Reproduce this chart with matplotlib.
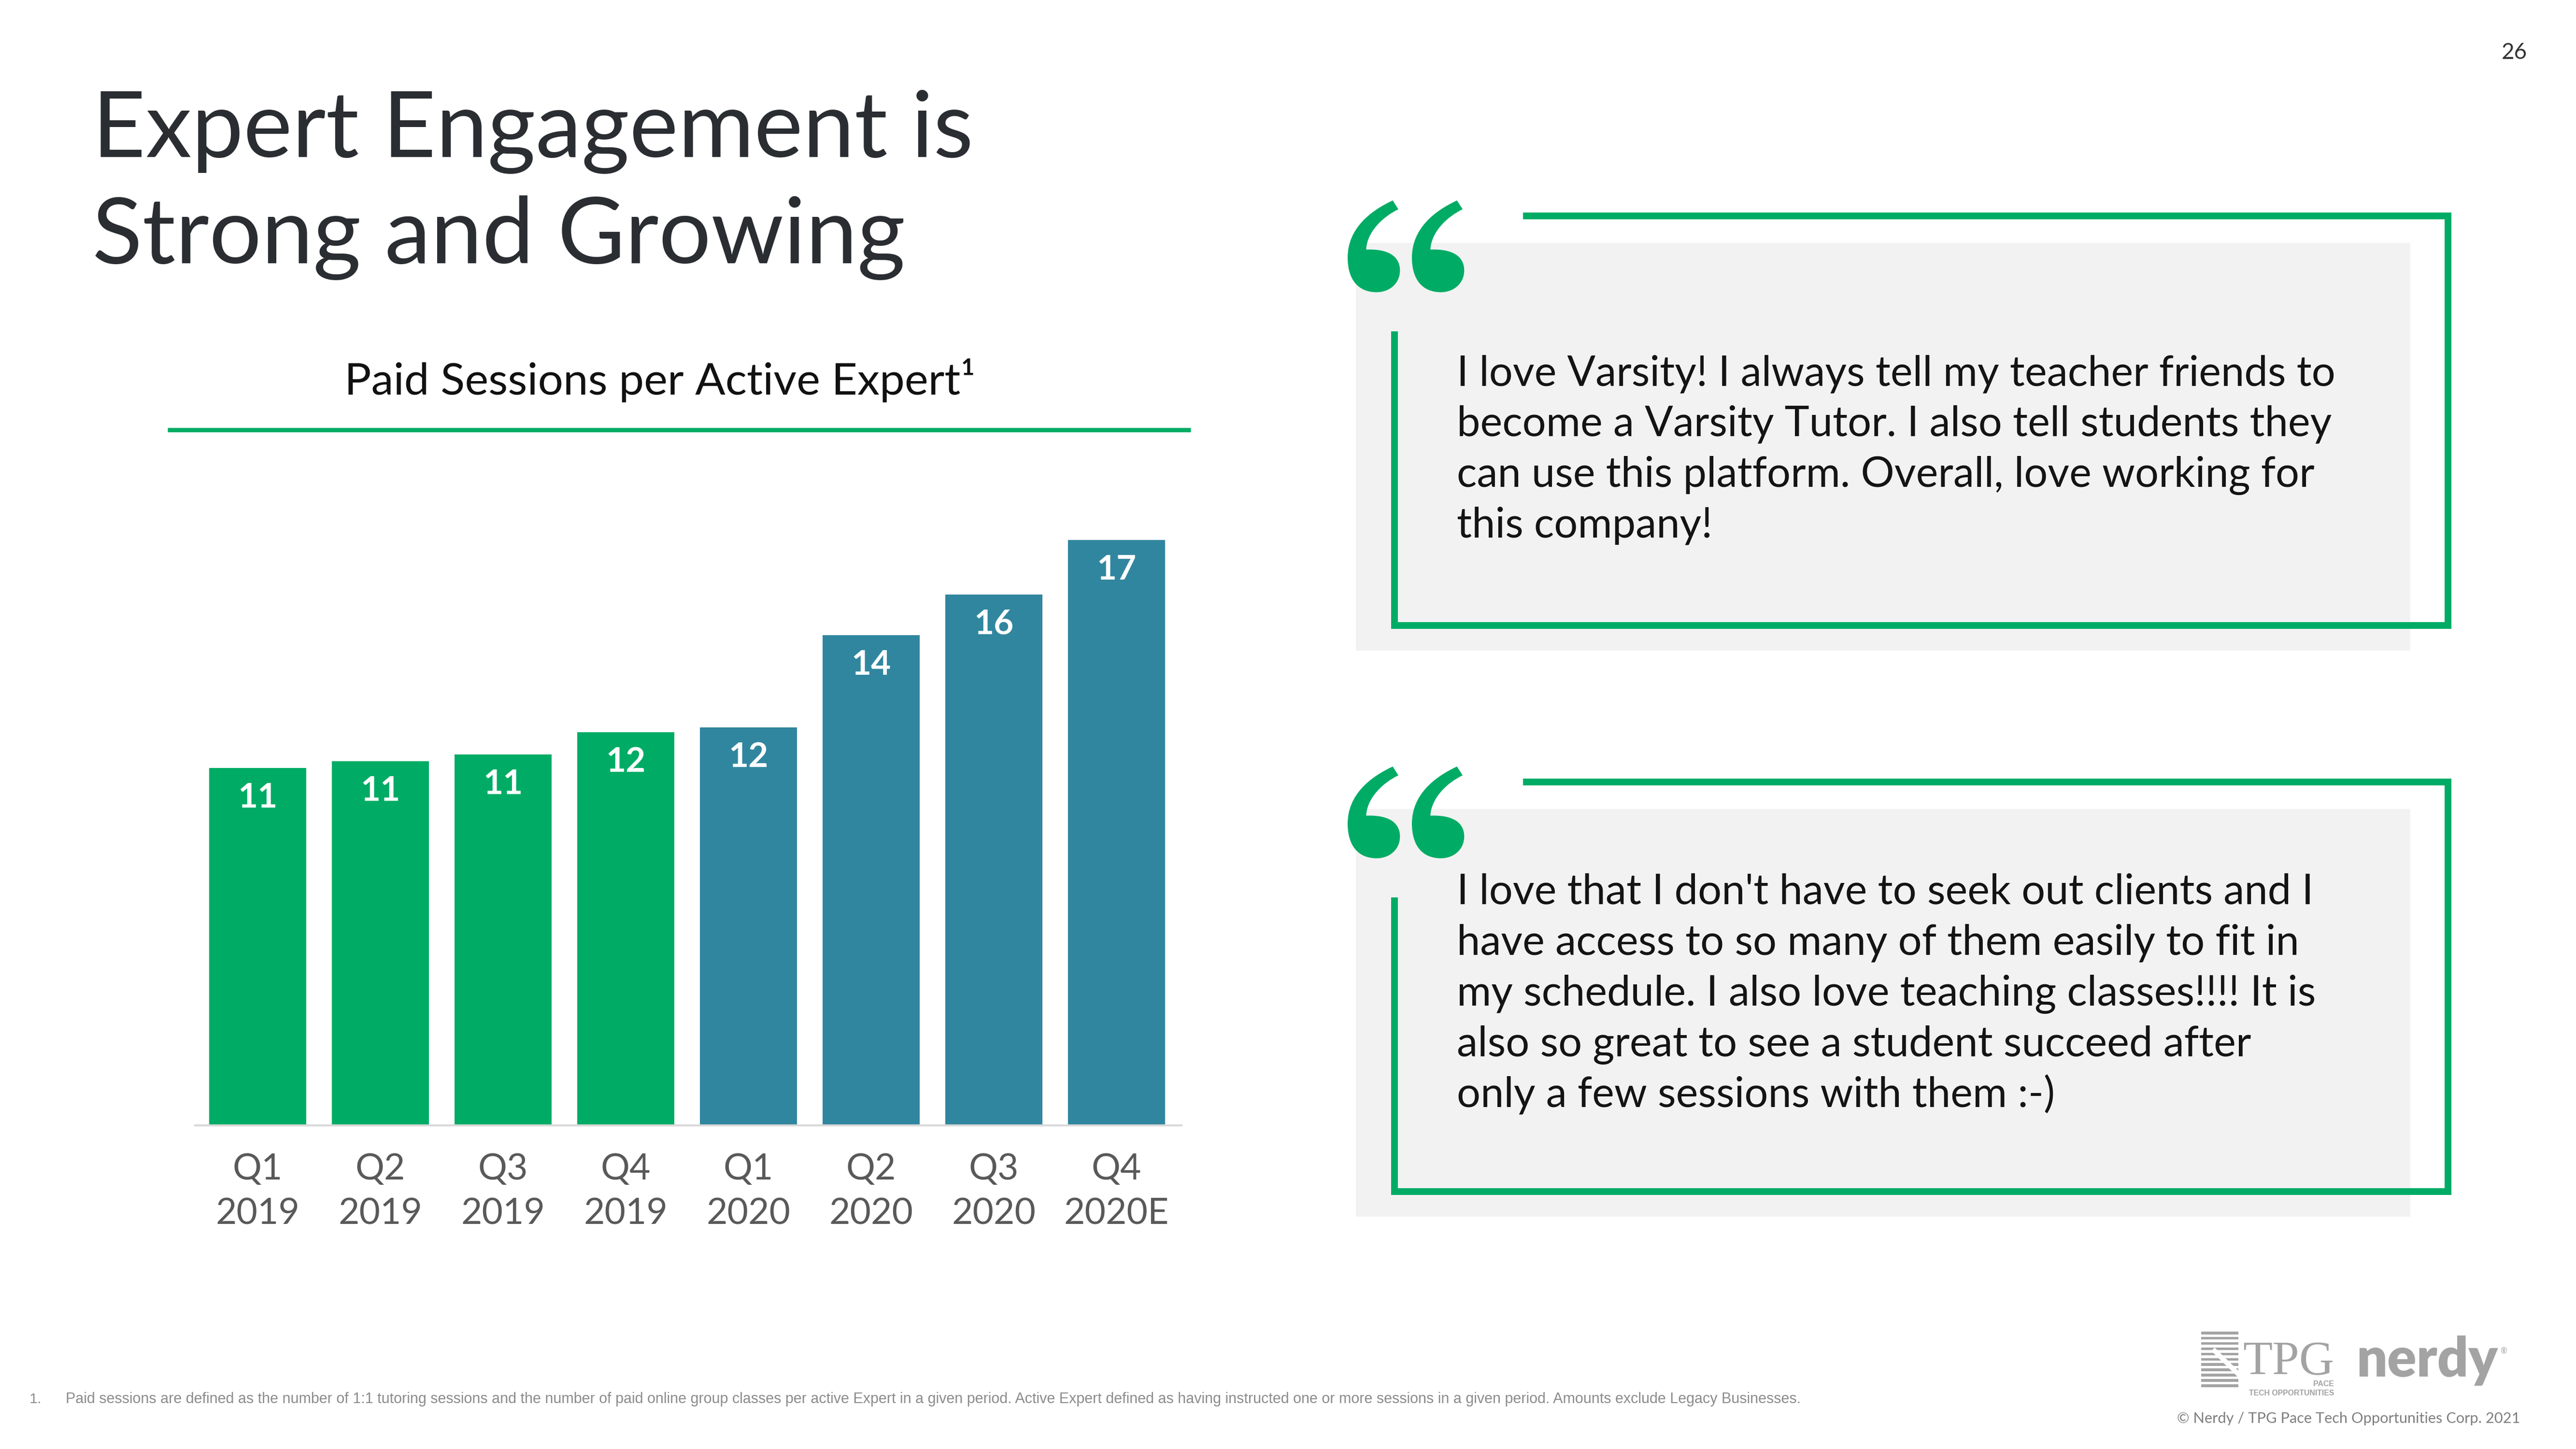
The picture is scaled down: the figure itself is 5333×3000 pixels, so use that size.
"""
Slide 26 - "Expert Engagement is Strong and Growing".
Bar chart of paid sessions per active Expert by quarter (left) and two
Expert testimonials in green quote frames (right).
"""

import matplotlib
matplotlib.use("Agg")
import matplotlib.pyplot as plt
from matplotlib.patches import PathPatch, Rectangle
from matplotlib.path import Path

W, H, DPI = 5333, 3000, 300
PT = DPI / 72  # pixels per point

GREEN = "#00ac65"
TEAL = "#31869f"
INK = "#2a2d31"
AXIS_GREY = "#595959"
LIGHT_GREY = "#8c8c8c"
BOX_BG = "#f2f2f2"
LOGO_GREY = "#a3a3a3"

plt.rcParams["font.family"] = ["Lato", "DejaVu Sans"]

# --- data ---------------------------------------------------------------
quarters = ["Q1", "Q2", "Q3", "Q4", "Q1", "Q2", "Q3", "Q4"]
years = ["2019", "2019", "2019", "2019", "2020", "2020", "2020", "2020E"]
sessions = [10.5, 10.7, 10.9, 11.55, 11.7, 14.4, 15.6, 17.2]
session_labels = ["11", "11", "11", "12", "12", "14", "16", "17"]

quote_1 = [
    "I love Varsity! I always tell my teacher friends to",
    "become a Varsity Tutor. I also tell students they",
    "can use this platform. Overall, love working for",
    "this company!",
]
quote_2 = [
    "I love that I don't have to seek out clients and I",
    "have access to so many of them easily to fit in",
    "my schedule. I also love teaching classes!!!! It is",
    "also so great to see a student succeed after",
    "only a few sessions with them :-)",
]

footnote = ("Paid sessions are defined as the number of 1:1 tutoring sessions and the number of "
            "paid online group classes per active Expert in a given period. Active Expert defined "
            "as having instructed one or more sessions in a given period. Amounts exclude Legacy "
            "Businesses.")

# outline of one opening-quote "6" shape, in px, origin at its top-left
QUOTE_SHAPE = [
    (Path.MOVETO, (93.3, 0.0)),
    (Path.LINETO, (105.0, 18.3)),
    (Path.CURVE4, (73.3, 33.3)), (Path.CURVE4, (40.0, 65.0)), (Path.CURVE4, (38.3, 101.7)),
    (Path.CURVE4, (83.3, 100.0)), (Path.CURVE4, (108.3, 115.0)), (Path.CURVE4, (108.3, 145.0)),
    (Path.CURVE4, (108.3, 171.7)), (Path.CURVE4, (86.7, 190.0)), (Path.CURVE4, (60.0, 190.0)),
    (Path.CURVE4, (20.0, 190.0)), (Path.CURVE4, (0.0, 161.7)), (Path.CURVE4, (0.0, 118.3)),
    (Path.CURVE4, (0.0, 58.3)), (Path.CURVE4, (46.7, 21.7)), (Path.CURVE4, (93.3, 0.0)),
    (Path.CLOSEPOLY, (93.3, 0.0)),
]


def draw_quote_mark(ax, x0, y0):
    codes = [c for c, _ in QUOTE_SHAPE]
    verts = [(x0 + vx, y0 + vy) for _, (vx, vy) in QUOTE_SHAPE]
    ax.add_patch(PathPatch(Path(verts, codes), facecolor=GREEN, edgecolor="none", zorder=3))


def draw_quote_box(ax, top, lines, n_offset):
    """Grey panel, open green frame, big quote marks and the testimonial."""
    # top = y of the frame's top edge (px)
    ax.add_patch(Rectangle((2807, top + 56), 4990 - 2807, 844, facecolor=BOX_BG,
                           edgecolor="none", zorder=1))
    lw = 14 / PT
    frame = dict(color=GREEN, lw=lw, solid_capstyle="projecting", zorder=2)
    bottom = top + 848
    ax.plot([3160, 5068], [top, top], **frame)
    ax.plot([5068, 5068], [top, bottom], **frame)
    ax.plot([2887, 5068], [bottom, bottom], **frame)
    ax.plot([2887, 2887], [top + 246, bottom], **frame)

    draw_quote_mark(ax, 2790, top - 32)
    draw_quote_mark(ax, 2923, top - 32)

    first_baseline = top + n_offset
    for i, line in enumerate(lines):
        ax.text(3016, first_baseline + i * 105, line, fontsize=20.8, color="#141414",
                va="baseline", ha="left", zorder=4)


def draw_logos(ax):
    # TPG stripes
    for i in range(11):
        y = 2757 + i * 10.9
        ax.add_patch(Rectangle((4557, y), 77, 5.5, facecolor=LOGO_GREY,
                               edgecolor="none", zorder=2))
    ax.plot([4585, 4634], [2797, 2845], color="white", lw=10 / PT, zorder=3)
    ax.text(4643, 2845, "TPG", family=["Liberation Serif"], fontsize=24,
            color=LOGO_GREY, va="baseline", ha="left")
    ax.text(4832, 2870, "PACE", fontsize=3.8, fontweight="bold", color=LOGO_GREY,
            va="baseline", ha="right", family=["Liberation Sans"])
    ax.text(4832, 2889, "TECH OPPORTUNITIES", fontsize=3.8, fontweight="bold",
            color=LOGO_GREY, va="baseline", ha="right", family=["Liberation Sans"])
    ax.text(4878, 2850, "nerdy", fontsize=27, fontweight="heavy", color=LOGO_GREY,
            va="baseline", ha="left")
    ax.text(5176, 2802, "®", fontsize=4, color=LOGO_GREY, va="baseline", ha="left")


def main():
    fig = plt.figure(figsize=(W / DPI, H / DPI), dpi=DPI)
    fig.patch.set_facecolor("white")

    # page layer in pixel coordinates, y pointing down
    page = fig.add_axes([0, 0, 1, 1])
    page.set_xlim(0, W)
    page.set_ylim(H, 0)
    page.axis("off")

    # --- title block ---
    page.text(191, 325, "Expert Engagement is", fontsize=45.9, color=INK, va="baseline")
    page.text(191, 545, "Strong and Growing", fontsize=45.9, color=INK, va="baseline")
    page.text(1366, 817, "Paid Sessions per Active Expert¹", fontsize=22.2, color="#111111",
              va="baseline", ha="center")
    page.plot([347, 2465], [890, 890], color=GREEN, lw=9 / PT, solid_capstyle="butt")

    # --- bar chart ---
    base_px, top_px, left_px, right_px = 2330, 1000, 404, 2446
    px_per_unit = (2330 - 1118) / 17.2
    ax = fig.add_axes([left_px / W, 1 - base_px / H,
                       (right_px - left_px) / W, (base_px - top_px) / H])
    ax.patch.set_alpha(0)

    x = list(range(len(sessions)))
    colors = [GREEN if y == "2019" else TEAL for y in years]
    ax.bar(x, sessions, width=0.79, color=colors, zorder=2)
    ax.set_xlim(-0.51, 7.53)
    ax.set_ylim(0, (base_px - top_px) / px_per_unit)

    for i, (v, lbl) in enumerate(zip(sessions, session_labels)):
        ax.annotate(lbl, (i, v), xytext=(0, -82 / PT), textcoords="offset points",
                    ha="center", va="baseline", color="white", fontsize=17,
                    fontweight="bold", zorder=3)

    ax.set_xticks(x, [f"{q}\n{y}" for q, y in zip(quarters, years)])
    ax.tick_params(axis="x", length=0, pad=13.5, labelsize=18, labelcolor=AXIS_GREY)
    for lbl in ax.get_xticklabels():
        lbl.set_linespacing(1.42)
    ax.set_yticks([])
    for side in ("top", "right", "left"):
        ax.spines[side].set_visible(False)
    ax.spines["bottom"].set_color("#d9d9d9")
    ax.spines["bottom"].set_linewidth(1.0)

    # --- testimonials ---
    draw_quote_box(page, 447, quote_1, 351)
    draw_quote_box(page, 1619, quote_2, 253)

    # --- page furniture ---
    page.text(5205, 109, "26", fontsize=11, color="#333333", ha="center", va="center")
    page.text(61, 2897, "1.", fontsize=7.3, color=LIGHT_GREY, va="center",
              family=["Liberation Sans"])
    page.text(136, 2897, footnote, fontsize=7.33, color=LIGHT_GREY, va="center",
              family=["Liberation Sans"])
    page.text(4507, 2937, "© Nerdy / TPG Pace Tech Opportunities Corp. 2021", fontsize=7.4,
              color="#7f7f7f", va="center", ha="left")
    draw_logos(page)

    fig.savefig("out.png", dpi=DPI, facecolor="white")
    plt.close(fig)


if __name__ == "__main__":
    main()
